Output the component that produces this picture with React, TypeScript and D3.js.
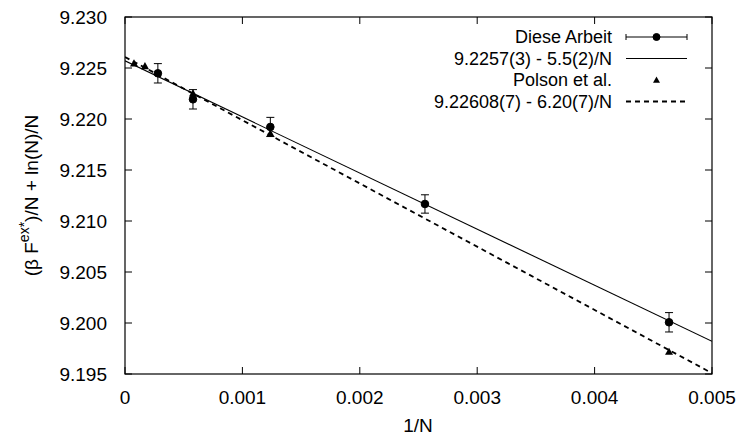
import React from "react";
import * as d3 from "d3";

// Diese Arbeit (points with error bars)
const arbeitX = [0.00028, 0.000579, 0.001238, 0.002555, 0.004634];
const arbeitY = [9.22448, 9.22193, 9.21922, 9.21167, 9.20007];
const arbeitErr = [0.00095, 0.00095, 0.00094, 0.0009, 0.00095];

// Polson et al.
const polsonX = [0.0000767, 0.00017, 0.000579, 0.001238, 0.004634];
const polsonY = [9.22546, 9.2252, 9.22252, 9.2186, 9.19719];

// linear fits: a + b * x
const fitArbeit = [9.2257, -5.5];
const fitPolson = [9.22608, -6.2];

const xTicks = [0, 0.001, 0.002, 0.003, 0.004, 0.005];
const yTicks = [9.195, 9.2, 9.205, 9.21, 9.215, 9.22, 9.225, 9.23];

const legendLabels = [
  "Diese Arbeit",
  "9.2257(3) - 5.5(2)/N",
  "Polson et al.",
  "9.22608(7) - 6.20(7)/N",
];

const W = 744;
const H = 439;
const m = { left: 125, top: 17, right: 712, bottom: 374 };
const FONT = "'Liberation Sans', Arial, sans-serif";

const triangle = (cx: number, cy: number, s = 4) =>
  `M${cx},${cy - s} L${cx + s},${cy + s * 0.8} L${cx - s},${cy + s * 0.8} Z`;

const App = () => {
  const x = d3.scaleLinear().domain([0, 0.005]).range([m.left, m.right]);
  const y = d3.scaleLinear().domain([9.195, 9.23]).range([m.bottom, m.top]);
  const fmtX = (d: number) => (d === 0 ? "0" : d3.format(".3f")(d));
  const fmtY = d3.format(".3f");

  const lineGen = (fit: number[]) =>
    d3
      .line<number>()
      .x((d) => x(d))
      .y((d) => y(fit[0] + fit[1] * d))([0, 0.005]) || "";

  const tl = 7;
  const cap = 4;
  const lx0 = 626;
  const lx1 = 687;
  const lmid = (lx0 + lx1) / 2;
  const ltext = 612;
  const rows = [37, 58.5, 80, 101.5];

  return (
    <svg
      width={W}
      height={H}
      style={{ position: "absolute", left: 0, top: 0, background: "#fff" }}
      fontFamily={FONT}
    >
      <defs>
        <clipPath id="plot">
          <rect x={m.left} y={m.top} width={m.right - m.left} height={m.bottom - m.top} />
        </clipPath>
      </defs>

      {/* ticks */}
      {xTicks.map((t, i) => (
        <g key={"xt" + i}>
          <line x1={x(t)} x2={x(t)} y1={m.bottom} y2={m.bottom - tl} stroke="#000" />
          <line x1={x(t)} x2={x(t)} y1={m.top} y2={m.top + tl} stroke="#000" />
          <text x={x(t)} y={397} textAnchor="middle" dominantBaseline="central" fontSize={19}>
            {fmtX(t)}
          </text>
        </g>
      ))}
      {yTicks.map((t, i) => (
        <g key={"yt" + i}>
          <line x1={m.left} x2={m.left + tl} y1={y(t)} y2={y(t)} stroke="#000" />
          <line x1={m.right} x2={m.right - tl} y1={y(t)} y2={y(t)} stroke="#000" />
          <text x={107} y={y(t)} textAnchor="end" dominantBaseline="central" fontSize={19}>
            {fmtY(t)}
          </text>
        </g>
      ))}

      <rect
        x={m.left}
        y={m.top}
        width={m.right - m.left}
        height={m.bottom - m.top}
        fill="none"
        stroke="#000"
        strokeWidth={1.2}
      />

      {/* axis titles */}
      <text x={418} y={425} textAnchor="middle" dominantBaseline="central" fontSize={19}>
        1/N
      </text>
      <text
        transform={`translate(31,${(m.top + m.bottom) / 2}) rotate(-90)`}
        textAnchor="middle"
        dominantBaseline="central"
        fontSize={19}
      >
        (β F<tspan dy={-7} fontSize={14}>ex*</tspan>
        <tspan dy={7}>)/N + ln(N)/N</tspan>
      </text>

      {/* fits */}
      <g clipPath="url(#plot)">
        <path d={lineGen(fitArbeit)} stroke="#000" strokeWidth={1.1} fill="none" />
        <path
          d={lineGen(fitPolson)}
          stroke="#000"
          strokeWidth={1.8}
          strokeDasharray="5,4"
          fill="none"
        />
      </g>

      {/* Polson points */}
      {polsonX.map((px, i) => (
        <path key={"p" + i} d={triangle(x(px), y(polsonY[i]))} fill="#000" />
      ))}

      {/* Arbeit points with error bars */}
      {arbeitX.map((ax, i) => {
        const cx = x(ax);
        const yt = y(arbeitY[i] + arbeitErr[i]);
        const yb = y(arbeitY[i] - arbeitErr[i]);
        return (
          <g key={"a" + i} stroke="#000" strokeWidth={1}>
            <line x1={cx} x2={cx} y1={yt} y2={yb} />
            <line x1={cx - cap} x2={cx + cap} y1={yt} y2={yt} />
            <line x1={cx - cap} x2={cx + cap} y1={yb} y2={yb} />
            <circle cx={cx} cy={y(arbeitY[i])} r={3.8} fill="#000" />
          </g>
        );
      })}

      {/* legend */}
      {legendLabels.map((l, i) => (
        <text
          key={"l" + i}
          x={ltext}
          y={rows[i]}
          textAnchor="end"
          dominantBaseline="central"
          fontSize={18}
        >
          {l}
        </text>
      ))}
      <g stroke="#000" strokeWidth={1}>
        <line x1={lx0} x2={lx1} y1={rows[0]} y2={rows[0]} />
        <line x1={lx0} x2={lx0} y1={rows[0] - 3} y2={rows[0] + 3} />
        <line x1={lx1} x2={lx1} y1={rows[0] - 3} y2={rows[0] + 3} />
        <circle cx={lmid} cy={rows[0]} r={3.5} fill="#000" />
        <line x1={lx0} x2={lx1} y1={rows[1]} y2={rows[1]} strokeWidth={1.1} />
        <line x1={lx0} x2={lx1} y1={rows[3]} y2={rows[3]} strokeWidth={1.8} strokeDasharray="5,4" />
      </g>
      <path d={triangle(lmid, rows[2], 3.5)} fill="#000" />
    </svg>
  );
};

export default App;
